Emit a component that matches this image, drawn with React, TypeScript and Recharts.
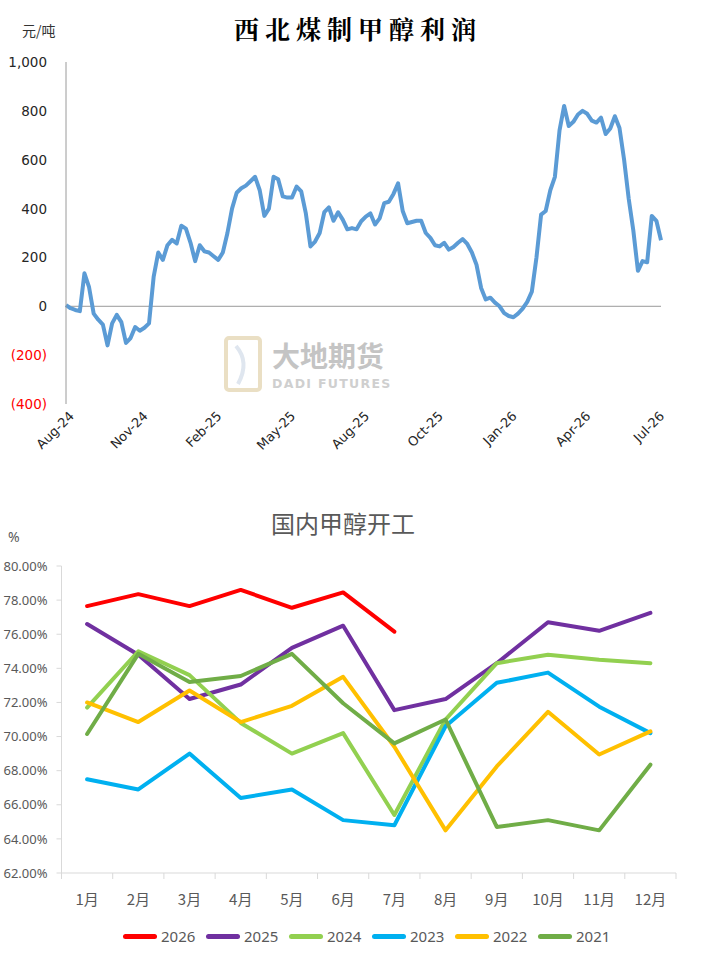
import { LineChart, Line, XAxis, YAxis, ReferenceLine } from 'recharts'

// 西北煤制甲醇利润 (元/吨), roughly every few trading days
const profitTickLabels = ['Aug-24', 'Nov-24', 'Feb-25', 'May-25', 'Aug-25', 'Oct-25', 'Jan-26', 'Apr-26', 'Jul-26']
const profitTickStep = 16
const profitValues = [
  5, -8, -15, -20, 135, 78, -30, -55, -75, -160,
  -70, -35, -65, -150, -130, -85, -100, -88, -70, 120,
  220, 190, 250, 272, 257, 330, 318, 260, 185, 250,
  225, 220, 205, 190, 220, 300, 400, 465, 483, 494,
  512, 530, 475, 370, 400, 530, 520, 450, 445, 445,
  490, 470, 380, 245, 265, 300, 385, 405, 350, 385,
  355, 315, 320, 315, 348, 367, 380, 335, 360, 422,
  428, 460, 503, 390, 340, 345, 350, 350, 300, 280,
  250, 245, 260, 232, 243, 260, 275, 255, 220, 170,
  75, 28, 35, 15, 0, -28, -40, -45, -30, -10,
  18, 60, 200, 375, 390, 475, 530, 720, 820, 738,
  755, 785, 800, 788, 760, 752, 772, 705, 728, 778,
  730, 600, 440, 310, 145, 185, 180, 370, 350, 270,
]
const profitYTicks = [-400, -200, 0, 200, 400, 600, 800, 1000]

// 国内甲醇开工 (%)
const months = ['1月', '2月', '3月', '4月', '5月', '6月', '7月', '8月', '9月', '10月', '11月', '12月']
const years = ['2026', '2025', '2024', '2023', '2022', '2021']
const yearColors = ['#ff0000', '#7030a0', '#92d050', '#00b0f0', '#ffc000', '#70ad47']
const rate2026 = [77.65, 78.35, 77.65, 78.6, 77.55, 78.45, 76.15]
const rate2025 = [76.6, 74.8, 72.2, 73.05, 75.2, 76.5, 71.55, 72.2, 74.3, 76.7, 76.2, 77.25]
const rate2024 = [71.7, 75.0, 73.6, 70.8, 69.0, 70.2, 65.4, 71.0, 74.3, 74.8, 74.5, 74.3]
const rate2023 = [67.5, 66.9, 69.0, 66.4, 66.9, 65.1, 64.8, 70.6, 73.15, 73.75, 71.75, 70.2]
const rate2022 = [72.0, 70.85, 72.7, 70.85, 71.8, 73.5, 69.4, 64.5, 68.25, 71.45, 68.95, 70.3]
const rate2021 = [70.15, 74.85, 73.2, 73.55, 74.85, 71.95, 69.6, 71.0, 64.7, 65.1, 64.5, 68.35]
const rateYTicks = [62, 64, 66, 68, 70, 72, 74, 76, 78, 80]

const profitData = profitValues.map((v, i) => ({ i, v }))
const profitTicks = profitTickLabels.map((_, k) => k * profitTickStep)

const rateSeries = [rate2026, rate2025, rate2024, rate2023, rate2022, rate2021]
const rateData = months.map((m, i) => {
  const row: Record<string, string | number | null> = { month: m }
  years.forEach((y, k) => {
    row[y] = rateSeries[k][i] ?? null
  })
  return row
})

const halfBand = 25.6

function ProfitYTick(props: any) {
  const { x, y, payload } = props
  const v = payload.value as number
  const text = v < 0 ? `(${Math.abs(v)})` : v.toLocaleString('en-US')
  return (
    <text x={x} y={y} dy={5} textAnchor="end" fill={v < 0 ? '#ff0000' : '#262626'} fontSize={13.5} fontFamily="DejaVu Sans">
      {text}
    </text>
  )
}

function ProfitXTick(props: any) {
  const { x, y, payload } = props
  const label = profitTickLabels[Math.round(payload.value / profitTickStep)]
  const ax = x + 6
  const ay = y + 10
  return (
    <text x={ax} y={ay} dy={4} textAnchor="end" transform={`rotate(-45 ${ax} ${ay})`} fill="#262626" fontSize={13} fontFamily="DejaVu Sans">
      {label}
    </text>
  )
}

function MonthTick(props: any) {
  const { x, y, payload, index } = props
  return (
    <g>
      <line x1={x - halfBand} x2={x - halfBand} y1={y} y2={y + 6} stroke="#d9d9d9" />
      {index === months.length - 1 && <line x1={x + halfBand} x2={x + halfBand} y1={y} y2={y + 6} stroke="#d9d9d9" />}
      <text x={x} y={y + 27} dy={5} textAnchor="middle" fill="#595959" fontSize={15} fontFamily="'Noto Sans CJK SC'">
        {payload.value}
      </text>
    </g>
  )
}

export default function App() {
  return (
    <div style={{ position: 'absolute', left: 0, top: 0, width: 711, height: 956, background: '#fff', overflow: 'hidden' }}>
      {/* top chart */}
      <div style={{ position: 'absolute', left: 22, top: 20, fontSize: 14, color: '#333', fontFamily: "'Noto Sans CJK SC'" }}>元/吨</div>
      <div
        style={{
          position: 'absolute', left: 0, top: 10, width: 716, textAlign: 'center', fontSize: 25, fontWeight: 'bold',
          letterSpacing: 6, color: '#000', fontFamily: "'Noto Serif CJK SC', 'Noto Sans CJK SC'",
        }}
      >
        西北煤制甲醇利润
      </div>
      <svg style={{ position: 'absolute', left: 0, top: 0 }} width={711} height={470}>
        <rect x={226} y={338} width={34} height={52} rx={3} fill="none" stroke="#eadfc4" strokeWidth={4} />
        <path d="M236 346 Q250 362 238 384" fill="none" stroke="#dfe6ef" strokeWidth={4} />
        <text x={272} y={367} fontSize={28} fontWeight="bold" fill="#c4c4c4" fontFamily="'Noto Sans CJK SC'">大地期货</text>
        <text x={272} y={388} fontSize={12.5} fontWeight="bold" letterSpacing={1.3} fill="#cfcfcf" fontFamily="'DejaVu Sans'">DADI FUTURES</text>
      </svg>
      <div style={{ position: 'absolute', left: 0, top: 0 }}>
        <LineChart width={711} height={470} data={profitData} margin={{ top: 62, right: 50, left: 8, bottom: 6 }}>
          <XAxis
            dataKey="i"
            type="number"
            domain={[0, profitValues.length - 1]}
            ticks={profitTicks}
            interval={0}
            axisLine={false}
            tickLine={false}
            tickSize={0}
            tickMargin={0}
            height={60}
            tick={<ProfitXTick />}
          />
          <YAxis
            domain={[-400, 1000]}
            ticks={profitYTicks}
            width={58}
            axisLine={{ stroke: '#9a9a9a' }}
            tickLine={false}
            tickSize={0}
            tickMargin={19}
            tick={<ProfitYTick />}
          />
          <ReferenceLine y={0} stroke="#9a9a9a" />
          <Line dataKey="v" type="linear" stroke="#5b9bd5" strokeWidth={4} dot={false} isAnimationActive={false} strokeLinejoin="round" />
        </LineChart>
      </div>

      {/* bottom chart */}
      <div style={{ position: 'absolute', left: 0, top: 505, width: 686, textAlign: 'center', fontSize: 24, color: '#595959', fontFamily: "'Noto Sans CJK SC'" }}>
        国内甲醇开工
      </div>
      <div style={{ position: 'absolute', left: 8, top: 527, fontSize: 14, color: '#595959', fontFamily: "'Noto Sans'" }}>%</div>
      <div style={{ position: 'absolute', left: 0, top: 490 }}>
        <LineChart width={711} height={466} data={rateData} margin={{ top: 76, right: 35, left: 7, bottom: 0 }}>
          <XAxis
            dataKey="month"
            padding={{ left: halfBand, right: halfBand }}
            axisLine={{ stroke: '#d9d9d9' }}
            tickLine={false}
            tickSize={0}
            tickMargin={0}
            interval={0}
            height={83}
            tick={<MonthTick />}
          />
          <YAxis
            domain={[62, 80]}
            ticks={rateYTicks}
            width={54.5}
            axisLine={{ stroke: '#d9d9d9' }}
            tickLine={{ stroke: '#d9d9d9' }}
            tickSize={5}
            tickMargin={9}
            tickFormatter={(v: number) => `${v.toFixed(2)}%`}
            tick={{ fill: '#595959', fontSize: 13, fontFamily: 'Noto Sans' }}
          />
          {years.map((y, k) => (
            <Line
              key={y}
              dataKey={y}
              type="linear"
              stroke={yearColors[k]}
              strokeWidth={4}
              dot={false}
              strokeLinecap="round"
              strokeLinejoin="round"
              isAnimationActive={false}
            />
          ))}
        </LineChart>
      </div>
      <div style={{ position: 'absolute', left: 123, top: 926, display: 'flex', fontFamily: "'Noto Sans'", fontSize: 15, color: '#595959' }}>
        {years.map((y, k) => (
          <div key={y} style={{ width: 83, display: 'flex', alignItems: 'center' }}>
            <span style={{ display: 'inline-block', width: 34, height: 5, borderRadius: 3, background: yearColors[k], marginRight: 4 }} />
            <span>{y}</span>
          </div>
        ))}
      </div>
    </div>
  )
}
